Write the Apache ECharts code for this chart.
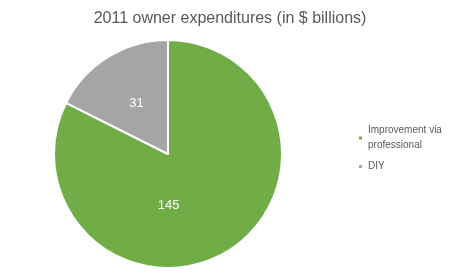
<!DOCTYPE html>
<html>
<head>
<meta charset="utf-8">
<script src="https://cdn.jsdelivr.net/npm/echarts@6/dist/echarts.min.js"></script>
<style>
  html, body { margin: 0; padding: 0; background: #fff; }
  #main { width: 460px; height: 274px; }
</style>
</head>
<body>
<div id="main"></div>
<script>
var categories = ['Improvement via professional', 'DIY'];
var values = [145, 31];
var colors = ['#70AD47', '#A5A5A5'];

var myChart = echarts.init(document.getElementById('main'));
var option = {
  animation: false,
  title: {
    text: '2011 owner expenditures (in $ billions)',
    left: 'center',
    top: 6,
    textStyle: { fontFamily: 'Liberation Sans', fontWeight: 'normal', fontSize: 16, color: '#595959' }
  },
  legend: {
    orient: 'vertical',
    left: 352,
    top: 118,
    icon: 'rect',
    itemWidth: 5,
    itemHeight: 5,
    itemGap: 6,
    formatter: function (name) {
      return name === 'Improvement via professional' ? 'Improvement via\nprofessional' : name;
    },
    textStyle: { fontFamily: 'Liberation Sans', fontSize: 10, color: '#595959', lineHeight: 15 }
  },
  series: [{
    type: 'pie',
    center: [168, 154],
    radius: 114,
    startAngle: 90,
    clockwise: true,
    itemStyle: { borderColor: '#fff', borderWidth: 2 },
    label: {
      position: 'inside',
      color: '#fff',
      fontFamily: 'Liberation Sans',
      fontSize: 13,
      formatter: '{c}'
    },
    labelLine: { show: false },
    data: categories.map(function (c, i) {
      var d = { name: c, value: values[i], itemStyle: { color: colors[i] } };
      if (i === 0) d.label = { offset: [-31, 0] };
      return d;
    })
  }]
};
myChart.setOption(option);
</script>
</body>
</html>
